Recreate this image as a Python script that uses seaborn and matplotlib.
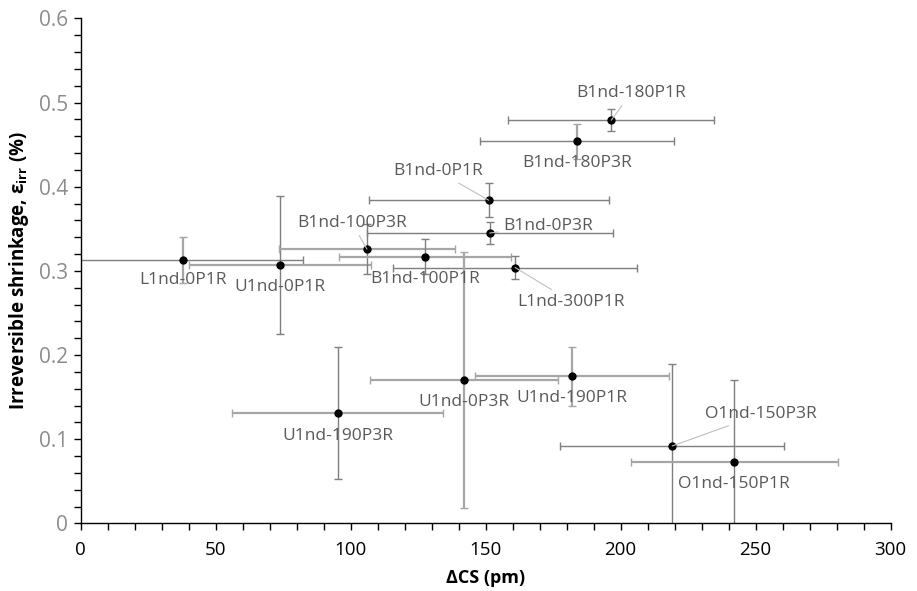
import matplotlib
matplotlib.use("Agg")
import matplotlib.pyplot as plt
import numpy as np
import pandas as pd
import seaborn as sns
from matplotlib.ticker import MultipleLocator, FuncFormatter

# ---------------- data ----------------
labels = ["L1nd-0P1R", "U1nd-0P1R", "B1nd-0P1R", "B1nd-0P3R", "B1nd-100P3R",
          "B1nd-100P1R", "L1nd-300P1R", "B1nd-180P1R", "B1nd-180P3R", "U1nd-0P3R",
          "U1nd-190P1R", "U1nd-190P3R", "O1nd-150P3R", "O1nd-150P1R"]
dcs = [37.8, 73.9, 151.1, 151.5, 106.0, 127.5, 160.9, 196.5, 183.8, 142.0,
       181.9, 95.2, 219.1, 242.1]
dcs_err = [44.4, 33.7, 44.4, 45.6, 32.6, 32.0, 45.2, 38.1, 35.9, 34.9,
           36.0, 39.1, 41.5, 38.3]
eps_irr = [0.313, 0.307, 0.384, 0.345, 0.326, 0.317, 0.304, 0.479, 0.454, 0.170,
           0.175, 0.131, 0.092, 0.073]
eps_err = [0.027, 0.082, 0.020, 0.013, 0.030, 0.021, 0.014, 0.013, 0.021, 0.152,
           0.035, 0.078, 0.097, 0.097]
x_ticks = [0, 50, 100, 150, 200, 250, 300]
y_ticks = [0, 0.1, 0.2, 0.3, 0.4, 0.5, 0.6]

df = pd.DataFrame({"label": labels, "dcs": dcs, "dcs_err": dcs_err,
                   "eps": eps_irr, "eps_err": eps_err})

# ---------------- styles ----------------
DARK = ("#7f7f7f", 1.0)
LIGHT = ("#a6a6a6", 1.6)
x_style = [DARK, LIGHT, DARK, DARK, LIGHT, LIGHT, DARK, DARK, DARK, LIGHT,
           LIGHT, LIGHT, DARK, LIGHT]
y_style = [LIGHT, DARK, DARK, DARK, DARK, DARK, DARK, DARK, LIGHT, LIGHT,
           LIGHT, DARK, DARK, DARK]
# label offsets in pixels (dx, dy up) and whether a leader line is drawn
label_off = {
    "L1nd-0P1R": (0, -20, False),
    "U1nd-0P1R": (0, -22, False),
    "B1nd-0P1R": (-51, 29, True),
    "B1nd-0P3R": (58, 7, True),
    "B1nd-100P3R": (-15, 26, True),
    "B1nd-100P1R": (0, -22, False),
    "L1nd-300P1R": (56, -34, True),
    "B1nd-180P1R": (20, 27, True),
    "B1nd-180P3R": (0, -22, False),
    "U1nd-0P3R": (0, -22, False),
    "U1nd-190P1R": (0, -22, False),
    "U1nd-190P3R": (0, -23, False),
    "O1nd-150P3R": (89, 32, True),
    "O1nd-150P1R": (0, -22, False),
}

sns.set_theme(style="white")
plt.rcParams["font.family"] = ["Open Sans", "DejaVu Sans"]
plt.rcParams["mathtext.fontset"] = "custom"
plt.rcParams["mathtext.rm"] = "Open Sans"
plt.rcParams["mathtext.bf"] = "Open Sans:bold"

fig = plt.figure(figsize=(9.17, 5.91), dpi=100)
ax = fig.add_axes([0.088, 0.1144, 0.8833, 0.8545])

for i, r in df.iterrows():
    cx, lx = x_style[i]
    cy, ly = y_style[i]
    ax.errorbar(r["dcs"], r["eps"], xerr=r["dcs_err"], fmt="none", ecolor=cx,
                elinewidth=lx, capsize=3, capthick=1.0, zorder=2)
    ax.errorbar(r["dcs"], r["eps"], yerr=r["eps_err"], fmt="none", ecolor=cy,
                elinewidth=ly, capsize=3, capthick=1.0, zorder=2)

sns.scatterplot(data=df, x="dcs", y="eps", ax=ax, color="black", s=36,
                edgecolor="black", linewidth=0, zorder=4, legend=False)

for i, r in df.iterrows():
    dx, dy, leader = label_off[r["label"]]
    kw = {}
    if leader:
        kw["arrowprops"] = dict(arrowstyle="-", color="#bfbfbf", lw=0.8,
                                shrinkA=1, shrinkB=0)
    ax.annotate(r["label"], xy=(r["dcs"], r["eps"]), xytext=(dx, dy),
                textcoords="offset pixels", ha="center", va="center",
                fontsize=12.5, color="#595959", zorder=5, **kw)

ax.set_xlim(0, 300)
ax.set_ylim(0, 0.6)
ax.set_xticks(x_ticks)
ax.set_yticks(y_ticks)
ax.xaxis.set_minor_locator(MultipleLocator(10))
ax.yaxis.set_minor_locator(MultipleLocator(0.02))
ax.yaxis.set_major_formatter(FuncFormatter(lambda v, p: "0" if abs(v) < 1e-9 else f"{v:.1f}"))
ax.tick_params(axis="both", which="both", direction="out", length=5, width=1,
               color="black", bottom=True, left=True)
ax.tick_params(axis="x", labelsize=13.5, labelcolor="black", pad=8)
ax.tick_params(axis="y", labelsize=15, labelcolor="#8c8c8c", pad=4)

for s in ["top", "right"]:
    ax.spines[s].set_visible(False)
for s in ["left", "bottom"]:
    ax.spines[s].set_color("black")
    ax.spines[s].set_linewidth(1.0)
ax.grid(False)

ax.set_xlabel("ΔCS (pm)", fontsize=13, fontweight="bold", color="black", labelpad=7)
ax.set_ylabel(r"Irreversible shrinkage, ε$_\mathbf{irr}$ (%)", fontsize=13.5,
              fontweight="bold", color="black", labelpad=6)

fig.savefig("out.png", dpi=100)
